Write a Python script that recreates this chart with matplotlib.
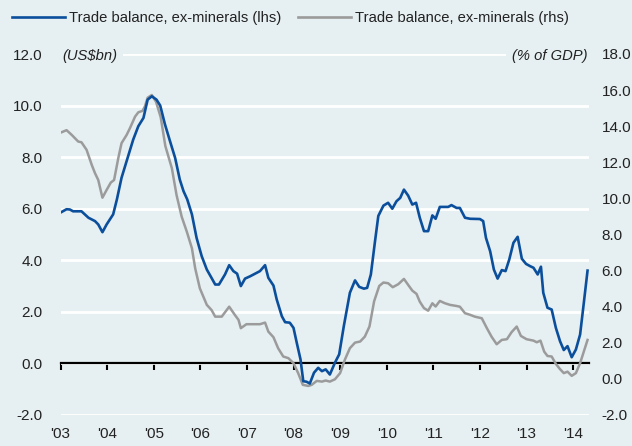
import matplotlib
matplotlib.use('Agg')
import matplotlib.pyplot as plt
from matplotlib.lines import Line2D

# ---- data ----
blue_years = [2003.00, 2003.13, 2003.20, 2003.27, 2003.45, 2003.60, 2003.74, 2003.81, 2003.90, 2003.99,
              2004.13, 2004.21, 2004.31, 2004.45, 2004.56, 2004.67, 2004.78, 2004.87, 2004.96, 2005.06,
              2005.14, 2005.24, 2005.35, 2005.46, 2005.56, 2005.64, 2005.72, 2005.82, 2005.92, 2006.03,
              2006.14, 2006.24, 2006.32, 2006.40, 2006.53, 2006.62, 2006.71, 2006.79, 2006.87, 2006.96,
              2007.07, 2007.28, 2007.39, 2007.46, 2007.57, 2007.64, 2007.75, 2007.82, 2007.92, 2008.00,
              2008.07, 2008.15, 2008.21, 2008.28, 2008.35, 2008.44, 2008.53, 2008.61, 2008.69, 2008.78,
              2008.89, 2008.98, 2009.08, 2009.21, 2009.32, 2009.41, 2009.51, 2009.58, 2009.66, 2009.75,
              2009.82, 2009.93, 2010.03, 2010.12, 2010.21, 2010.29, 2010.37, 2010.46, 2010.55, 2010.63,
              2010.71, 2010.80, 2010.89, 2010.98, 2011.05, 2011.14, 2011.32, 2011.39, 2011.50, 2011.57,
              2011.68, 2011.79, 2012.00, 2012.07, 2012.13, 2012.22, 2012.30, 2012.38, 2012.47, 2012.55,
              2012.63, 2012.72, 2012.81, 2012.90, 2012.99, 2013.08, 2013.15, 2013.24, 2013.31, 2013.36,
              2013.45, 2013.54, 2013.63, 2013.72, 2013.80, 2013.88, 2013.97, 2014.06, 2014.15, 2014.23,
              2014.31]
blue_vals = [5.85, 5.98, 5.97, 5.90, 5.90, 5.65, 5.52, 5.39, 5.09, 5.39,
             5.78, 6.36, 7.20, 8.03, 8.68, 9.20, 9.52, 10.23, 10.36, 10.23,
             10.00, 9.28, 8.62, 7.97, 7.13, 6.68, 6.36, 5.78, 4.87, 4.16,
             3.64, 3.32, 3.06, 3.06, 3.45, 3.81, 3.58, 3.48, 3.00, 3.29,
             3.38, 3.58, 3.81, 3.32, 3.02, 2.48, 1.83, 1.60, 1.58, 1.38,
             0.80, 0.16, -0.69, -0.71, -0.78, -0.36, -0.17, -0.30, -0.23, -0.43,
             0.03, 0.35, 1.45, 2.74, 3.22, 2.97, 2.90, 2.93, 3.45, 4.75,
             5.72, 6.12, 6.23, 6.00, 6.29, 6.42, 6.74, 6.51, 6.16, 6.23,
             5.65, 5.13, 5.13, 5.74, 5.61, 6.07, 6.07, 6.14, 6.03, 6.03,
             5.65, 5.61, 5.60, 5.52, 4.87, 4.35, 3.64, 3.29, 3.62, 3.58,
             4.03, 4.68, 4.91, 4.06, 3.86, 3.77, 3.71, 3.45, 3.75, 2.74,
             2.16, 2.09, 1.38, 0.86, 0.52, 0.67, 0.24, 0.54, 1.12, 2.35,
             3.60]

gray_years = [2003.00, 2003.13, 2003.24, 2003.38, 2003.45, 2003.56, 2003.67, 2003.74, 2003.81, 2003.90,
              2003.99, 2004.08, 2004.15, 2004.24, 2004.31, 2004.42, 2004.49, 2004.60, 2004.67, 2004.76,
              2004.81, 2004.87, 2004.96, 2005.05, 2005.15, 2005.25, 2005.39, 2005.49, 2005.60, 2005.71,
              2005.82, 2005.89, 2005.99, 2006.14, 2006.24, 2006.32, 2006.46, 2006.62, 2006.74, 2006.82,
              2006.87, 2006.99, 2007.28, 2007.39, 2007.46, 2007.57, 2007.67, 2007.78, 2007.89, 2008.00,
              2008.10, 2008.20, 2008.32, 2008.39, 2008.50, 2008.61, 2008.69, 2008.78, 2008.89, 2009.00,
              2009.10, 2009.21, 2009.32, 2009.43, 2009.53, 2009.63, 2009.73, 2009.84, 2009.93, 2010.03,
              2010.13, 2010.25, 2010.37, 2010.46, 2010.55, 2010.64, 2010.71, 2010.80, 2010.89, 2010.98,
              2011.05, 2011.14, 2011.25, 2011.36, 2011.50, 2011.57, 2011.68, 2011.79, 2011.89, 2012.04,
              2012.15, 2012.25, 2012.36, 2012.47, 2012.58, 2012.68, 2012.79, 2012.88, 2013.00, 2013.15,
              2013.22, 2013.30, 2013.38, 2013.45, 2013.54, 2013.63, 2013.72, 2013.80, 2013.88, 2013.97,
              2014.06, 2014.15, 2014.31]
gray_vals = [13.64, 13.78, 13.52, 13.15, 13.11, 12.69, 11.86, 11.40, 11.02, 10.04,
             10.47, 10.88, 11.02, 12.23, 13.06, 13.52, 13.89, 14.53, 14.77, 14.85,
             15.09, 15.58, 15.73, 15.35, 14.50, 12.90, 11.67, 10.19, 8.99, 8.16,
             7.24, 6.13, 5.02, 4.10, 3.82, 3.45, 3.45, 4.00, 3.55, 3.27,
             2.81, 3.03, 3.03, 3.12, 2.62, 2.31, 1.70, 1.24, 1.15, 0.87,
             0.32, -0.33, -0.39, -0.33, -0.11, -0.15, -0.09, -0.15, -0.02, 0.32,
             1.05, 1.70, 2.01, 2.07, 2.34, 2.90, 4.30, 5.15, 5.34, 5.30,
             5.08, 5.25, 5.54, 5.21, 4.89, 4.71, 4.28, 3.92, 3.78, 4.19,
             4.01, 4.32, 4.19, 4.10, 4.04, 4.00, 3.64, 3.55, 3.45, 3.36,
             2.81, 2.34, 1.92, 2.16, 2.20, 2.59, 2.90, 2.38, 2.20, 2.12,
             2.03, 2.12, 1.51, 1.27, 1.24, 0.83, 0.54, 0.32, 0.40, 0.17,
             0.32, 0.87, 2.16]

year_ticks = list(range(2003, 2015))
year_labels = ["'03", "'04", "'05", "'06", "'07", "'08", "'09", "'10", "'11", "'12", "'13", "'14"]
left_ticks = [-2, 0, 2, 4, 6, 8, 10, 12]
right_ticks = [-2, 0, 2, 4, 6, 8, 10, 12, 14, 16, 18]
blue_label = 'Trade balance, ex-minerals (lhs)'
gray_label = 'Trade balance, ex-minerals (rhs)'
left_unit = '(US$bn)'
right_unit = '(% of GDP)'

# ---- style ----
BG = '#E6EFF1'
BLUE = '#0B4F9C'
GRAY = '#9B9B9B'
TXT = '#222222'
plt.rcParams['font.family'] = ['Liberation Sans Narrow', 'Liberation Sans', 'DejaVu Sans']
FS = 11
LFS = 10.6

W, H = 632, 446
fig = plt.figure(figsize=(W / 100, H / 100), dpi=100, facecolor=BG)
x0, x1, ytop, ybot = 60.5, 589, 54, 415
ax = fig.add_axes([x0 / W, (H - ybot) / H, (x1 - x0) / W, (ybot - ytop) / H])
ax.set_facecolor(BG)
ax.set_xlim(2003, 2003 + (x1 - x0) / 46.6)
ax.set_ylim(-2, 12)
ax.set_yticks(left_ticks)
ax.set_yticklabels([f'{t:.1f}' for t in left_ticks])
ax.yaxis.grid(True, color='white', lw=2)
ax.set_axisbelow(True)
ax.tick_params(axis='y', length=0, pad=13, labelsize=FS, labelcolor=TXT)
for s in ['top', 'left', 'right']:
    ax.spines[s].set_visible(False)
ax.spines['bottom'].set_position(('data', 0))
ax.spines['bottom'].set_color('black')
ax.spines['bottom'].set_linewidth(1.6)
ax.spines['bottom'].set_zorder(3)
ax.set_xticks(year_ticks)
ax.tick_params(axis='x', direction='out', length=5, width=1.5, color='black', labelbottom=False)

sec = ax.secondary_xaxis(0.0)
sec.set_xticks(year_ticks)
sec.set_xticklabels(year_labels)
sec.tick_params(length=0, pad=9, labelsize=FS, labelcolor=TXT)
sec.spines['bottom'].set_visible(False)

# gray series on right axis
axg = ax.twinx()
axg.set_ylim(-2, 18)
axg.set_yticks(right_ticks)
axg.set_yticklabels([f'{t:.1f}' for t in right_ticks])
axg.tick_params(axis='y', length=0, pad=9, labelsize=FS, labelcolor=TXT)
for s in axg.spines.values():
    s.set_visible(False)
axg.plot(gray_years, gray_vals, color=GRAY, lw=1.8, solid_joinstyle='round')

# blue series on top, left scale
axb = ax.twinx()
axb.set_ylim(-2, 12)
axb.set_yticks([])
for s in axb.spines.values():
    s.set_visible(False)
axb.plot(blue_years, blue_vals, color=BLUE, lw=1.9, solid_joinstyle='round')

# unit labels
ax.text(0.004, 12 - 0.08, left_unit, transform=ax.get_yaxis_transform(), ha='left', va='center',
        fontsize=LFS, style='italic', color=TXT, zorder=5,
        bbox=dict(facecolor=BG, edgecolor='none', pad=4))
ax.text(0.997, 12 - 0.08, right_unit, transform=ax.get_yaxis_transform(), ha='right', va='center',
        fontsize=LFS, style='italic', color=TXT, zorder=5,
        bbox=dict(facecolor=BG, edgecolor='none', pad=4))

# legend
handles = [Line2D([], [], color=BLUE, lw=1.9), Line2D([], [], color=GRAY, lw=1.9)]
fig.legend(handles, [blue_label, gray_label], loc='center left', bbox_to_anchor=(12 / W, 1 - 18 / H),
           ncol=2, frameon=False, fontsize=LFS, handlelength=3.6, handletextpad=0.3,
           columnspacing=1.1, borderpad=0, borderaxespad=0, labelcolor=TXT)

fig.savefig('out.png', dpi=100, facecolor=BG)
